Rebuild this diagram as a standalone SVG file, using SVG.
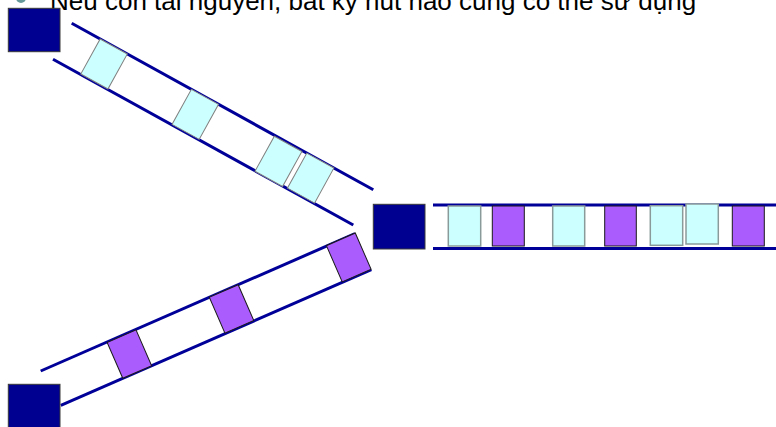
<svg xmlns="http://www.w3.org/2000/svg" width="776" height="427" viewBox="0 0 776 427">
<style>
.node{fill:#000090;stroke:#3a3a3a;stroke-width:1}
.wire{stroke:#000099;stroke-width:3;fill:none}
.cyan{fill:#ccffff;stroke:#808080;stroke-width:1}
.cyanh{fill:#ccffff;stroke:#8a9a9a;stroke-width:1.5}
.purple{fill:#aa5cfc;stroke:#1a1a1a;stroke-width:1}
.title{font-family:"Liberation Sans",Arial,sans-serif;font-size:26px;fill:#000}
</style>
<rect width="776" height="427" fill="#fff"/>
<circle cx="21" cy="-2" r="5" fill="#669999"/>
<text class="title" x="50" y="9.5">Nếu còn tài nguyên, bất kỳ nút nào cũng có thể sử dụng</text>
<g id="connectors">
<g id="channel-top" transform="translate(71.7,23.3) rotate(28.9)">
<line class="wire" x1="0" y1="0" x2="344.5" y2="0"/>
<line class="wire" x1="1" y1="40.5" x2="344" y2="40.5"/>
<rect class="cyan" x="32.5" y="0" width="31" height="40"/>
<rect class="cyan" x="136.7" y="0" width="31" height="40"/>
<rect class="cyan" x="232" y="1" width="31.5" height="40"/>
<rect class="cyan" x="268.5" y="0" width="31" height="40"/>
</g>
<g id="channel-bottom" transform="translate(40.7,371) rotate(-23.6)">
<line class="wire" x1="0" y1="0" x2="343" y2="0"/>
<line class="wire" x1="4.7" y1="39.5" x2="343.6" y2="39.5"/>
<rect class="purple" x="72.3" y="0.5" width="31.5" height="39"/>
<rect class="purple" x="184" y="0" width="31.5" height="39"/>
<rect class="purple" x="312" y="-0.5" width="31.5" height="39.5"/>
</g>
<g id="channel-right">
<line class="wire" x1="433" y1="205" x2="776" y2="205"/>
<line class="wire" x1="433" y1="248.5" x2="776" y2="248.5"/>
<rect class="cyanh" x="448.3" y="206" width="32.4" height="40"/>
<rect class="purple" x="492.3" y="206" width="32" height="40"/>
<rect class="cyanh" x="552.7" y="206" width="32" height="40"/>
<rect class="purple" x="604.7" y="206" width="31.6" height="40"/>
<rect class="cyanh" x="650.3" y="205.7" width="32.4" height="39.6"/>
<rect class="cyanh" x="686" y="204" width="32.3" height="40"/>
<rect class="purple" x="732.3" y="206" width="32" height="40"/>
</g>
</g>
<g id="node-top-left"><rect class="node" x="8.3" y="8.3" width="51.7" height="43.4"/></g>
<g id="node-center"><rect class="node" x="373.3" y="204.3" width="51.7" height="44.7"/></g>
<g id="node-bottom-left"><rect class="node" x="8.3" y="384.3" width="51.7" height="44"/></g>
</svg>
